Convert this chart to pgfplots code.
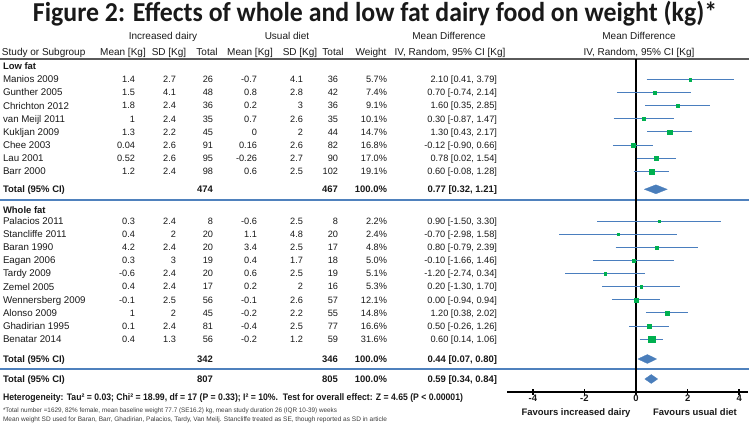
\documentclass[border=0pt]{standalone}
\usepackage{pgfplots}
\pgfplotsset{compat=1.18}
\usepackage{fontspec}
\setmainfont{Liberation Sans}
\newfontfamily\titlefont{Carlito}
\newlength\px \setlength\px{0.75pt}
\definecolor{ciblue}{RGB}{74,126,190}
\definecolor{sqgreen}{RGB}{0,176,80}
\definecolor{diablue}{RGB}{74,126,187}
\definecolor{sepblue}{RGB}{79,129,189}
\definecolor{txt}{RGB}{25,25,25}
\definecolor{hline}{RGB}{90,90,90}

\newcommand\dat{\fontsize{6.9pt}{8pt}\selectfont}
\newcommand\nam{\fontsize{7.3pt}{8.5pt}\selectfont}
\newcommand\hdr{\fontsize{7.5pt}{9pt}\selectfont}
\newcommand\bld{\fontsize{7.1pt}{8.5pt}\selectfont\bfseries}

% #1 centre y (px), #2 name, #3..#8 numbers, #9 weight
\newcommand\row[9]{%
  \node[anchor=base west] at (3,{#1+3.4}) {\nam #2};
  \node[anchor=base east] at (135,{#1+3.3}) {\dat #3};
  \node[anchor=base east] at (176,{#1+3.3}) {\dat #4};
  \node[anchor=base east] at (213,{#1+3.3}) {\dat #5};
  \node[anchor=base east] at (257,{#1+3.3}) {\dat #6};
  \node[anchor=base east] at (303,{#1+3.3}) {\dat #7};
  \node[anchor=base east] at (338,{#1+3.3}) {\dat #8};
  \node[anchor=base east] at (387,{#1+3.3}) {\dat #9};
}
\newcommand\ci[2]{\node[anchor=base east] at (497,{#1+3.3}) {\dat #2};}
\newcommand\totrow[6]{%
  \node[anchor=base west] at (3,{#1+3.4}) {\bld #2};
  \node[anchor=base east] at (213,{#1+3.4}) {\bld #3};
  \node[anchor=base east] at (338,{#1+3.4}) {\bld #4};
  \node[anchor=base east] at (387,{#1+3.4}) {\bld 100.0\%};
  \node[anchor=base east] at (497,{#1+3.4}) {\bld #6};
}
% study: y, lower, upper, estimate, half-size of square (pt)
\newcommand\study[5]{%
  \addplot[ciblue, line width=0.85pt, mark=none] coordinates {(#2,#1) (#3,#1)};
  \addplot[only marks, mark=square*, mark size=#5pt, color=sqgreen, mark options={line width=0.1pt}] coordinates {(#4,#1)};
}

\begin{document}
\begin{tikzpicture}[x=0.75pt,y=-0.75pt,
  every node/.style={inner sep=0pt, outer sep=0pt, text=txt}]
\path[use as bounding box] (0,0) rectangle (749,423);

% title
\node[anchor=base] at (375,21.5) {\resizebox{684\px}{\height}{\titlefont\bfseries\fontsize{20.5pt}{22pt}\selectfont Figure 2: Effects of whole and low fat dairy food on weight (kg)*}};

% headers
\node[anchor=base] at (163,40) {\hdr Increased dairy};
\node[anchor=base] at (287,40) {\hdr Usual diet};
\node[anchor=base] at (449,40) {\hdr Mean Difference};
\node[anchor=base] at (639,40) {\hdr Mean Difference};
\node[anchor=base west] at (2,55.5) {\hdr Study or Subgroup};
\node[anchor=base] at (123,55.5) {\hdr Mean [Kg]};
\node[anchor=base] at (169,55.5) {\hdr SD [Kg]};
\node[anchor=base] at (207,55.5) {\hdr Total};
\node[anchor=base] at (250,55.5) {\hdr Mean [Kg]};
\node[anchor=base] at (300,55.5) {\hdr SD [Kg]};
\node[anchor=base] at (333,55.5) {\hdr Total};
\node[anchor=base] at (371,55.5) {\hdr Weight};
\node[anchor=base] at (450,55.5) {\hdr IV, Random, 95\% CI [Kg]};
\node[anchor=base] at (639,55.5) {\hdr IV, Random, 95\% CI [Kg]};

\draw[hline, line width=1.2pt] (0,59) -- (749,59);
\draw[sepblue, line width=0.9pt] (0,200) -- (749,200);
\draw[sepblue, line width=0.9pt] (0,369) -- (749,369);

% low fat
\node[anchor=base west] at (3,69.5) {\bld Low fat};
\row{79.5}{Manios 2009}{1.4}{2.7}{26}{-0.7}{4.1}{36}{5.7\%}
\ci{79.5}{2.10 [0.41, 3.79]}
\row{92.6}{Gunther 2005}{1.5}{4.1}{48}{0.8}{2.8}{42}{7.4\%}
\ci{92.6}{0.70 [-0.74, 2.14]}
\row{105.7}{Chrichton 2012}{1.8}{2.4}{36}{0.2}{3}{36}{9.1\%}
\ci{105.7}{1.60 [0.35, 2.85]}
\row{118.8}{van Meijl 2011}{1}{2.4}{35}{0.7}{2.6}{35}{10.1\%}
\ci{118.8}{0.30 [-0.87, 1.47]}
\row{131.9}{Kukljan 2009}{1.3}{2.2}{45}{0}{2}{44}{14.7\%}
\ci{131.9}{1.30 [0.43, 2.17]}
\row{145.0}{Chee 2003}{0.04}{2.6}{91}{0.16}{2.6}{82}{16.8\%}
\ci{145.0}{-0.12 [-0.90, 0.66]}
\row{158.1}{Lau 2001}{0.52}{2.6}{95}{-0.26}{2.7}{90}{17.0\%}
\ci{158.1}{0.78 [0.02, 1.54]}
\row{171.2}{Barr 2000}{1.2}{2.4}{98}{0.6}{2.5}{102}{19.1\%}
\ci{171.2}{0.60 [-0.08, 1.28]}
\totrow{189.3}{Total (95\% CI)}{474}{467}{}{0.77 [0.32, 1.21]}

% whole fat
\node[anchor=base west] at (3,214) {\bld Whole fat};
\row{221.2}{Palacios 2011}{0.3}{2.4}{8}{-0.6}{2.5}{8}{2.2\%}
\ci{221.2}{0.90 [-1.50, 3.30]}
\row{234.3}{Stancliffe 2011}{0.4}{2}{20}{1.1}{4.8}{20}{2.4\%}
\ci{234.3}{-0.70 [-2.98, 1.58]}
\row{247.4}{Baran 1990}{4.2}{2.4}{20}{3.4}{2.5}{17}{4.8\%}
\ci{247.4}{0.80 [-0.79, 2.39]}
\row{260.5}{Eagan 2006}{0.3}{3}{19}{0.4}{1.7}{18}{5.0\%}
\ci{260.5}{-0.10 [-1.66, 1.46]}
\row{273.6}{Tardy 2009}{-0.6}{2.4}{20}{0.6}{2.5}{19}{5.1\%}
\ci{273.6}{-1.20 [-2.74, 0.34]}
\row{286.7}{Zemel 2005}{0.4}{2.4}{17}{0.2}{2}{16}{5.3\%}
\ci{286.7}{0.20 [-1.30, 1.70]}
\row{299.8}{Wennersberg 2009}{-0.1}{2.5}{56}{-0.1}{2.6}{57}{12.1\%}
\ci{299.8}{0.00 [-0.94, 0.94]}
\row{312.9}{Alonso 2009}{1}{2}{45}{-0.2}{2.2}{55}{14.8\%}
\ci{312.9}{1.20 [0.38, 2.02]}
\row{326.0}{Ghadirian 1995}{0.1}{2.4}{81}{-0.4}{2.5}{77}{16.6\%}
\ci{326.0}{0.50 [-0.26, 1.26]}
\row{339.1}{Benatar 2014}{0.4}{1.3}{56}{-0.2}{1.2}{59}{31.6\%}
\ci{339.1}{0.60 [0.14, 1.06]}
\totrow{359}{Total (95\% CI)}{342}{346}{}{0.44 [0.07, 0.80]}
\totrow{379}{Total (95\% CI)}{807}{805}{}{0.59 [0.34, 0.84]}

\node[anchor=base west] at (3,400.5) {\resizebox{460\px}{\height}{\bld Heterogeneity: Tau² = 0.03; Chi² = 18.99, df = 17 (P = 0.33); I² = 10\%.\ \ Test for overall effect: Z = 4.65 (P < 0.00001)}};
\node[anchor=base west] at (3,412.5) {\resizebox{334\px}{\height}{\fontsize{4.9pt}{5.5pt}\selectfont\color{txt!85}*Total number =1629, 82\% female, mean baseline weight 77.7 (SE16.2) kg, mean study duration 26 (IQR 10-39) weeks}};
\node[anchor=base west] at (3,421.3) {\resizebox{384\px}{\height}{\fontsize{4.9pt}{5.5pt}\selectfont\color{txt!85}Mean weight SD used for Baran, Barr, Ghadirian, Palacios, Tardy, Van Meilj. Stancliffe treated as SE, though reported as SD in article}};

\node[anchor=base] at (576,415.5) {\bld Favours increased dairy};
\node[anchor=base] at (695,415.5) {\bld Favours usual diet};

\begin{axis}[at={(380.25pt,-294pt)}, anchor=south west,
  scale only axis, width=180.75pt, height=249.75pt,
  xmin=-5, xmax=4.34, ymin=-392, ymax=-59, clip=false,
  axis x line*=bottom, axis y line=none,
  x axis line style={line width=1.5pt, black, -},
  xtick={-4,-2,0,2,4}, xticklabels={-4,-2,0,2,4},
  xticklabel style={font=\bld, text=txt},
  ytick=\empty,
  major tick length=4.5pt, xtick align=center,
  tick style={line width=1.2pt, black}]
\addplot[black, line width=1.5pt, mark=none] coordinates {(0,-59) (0,-392)};
% low fat studies: y, lower, upper, estimate, half-size
\study{-79.5}{0.41}{3.79}{2.10}{0.985}
\study{-92.6}{-0.74}{2.14}{0.70}{1.122}
\study{-105.7}{0.35}{2.85}{1.60}{1.244}
\study{-118.8}{-0.87}{1.47}{0.30}{1.311}
\study{-131.9}{0.43}{2.17}{1.30}{1.582}
\study{-145.2}{-0.90}{0.66}{-0.12}{1.691}
\study{-158.1}{0.02}{1.54}{0.78}{1.701}
\study{-171.2}{-0.08}{1.28}{0.60}{1.803}
% whole fat studies
\study{-221.2}{-1.50}{3.30}{0.90}{0.612}
\study{-234.3}{-2.98}{1.58}{-0.70}{0.639}
\study{-247.4}{-0.79}{2.39}{0.80}{0.904}
\study{-260.5}{-1.66}{1.46}{-0.10}{0.922}
\study{-273.6}{-2.74}{0.34}{-1.20}{0.932}
\study{-286.7}{-1.30}{1.70}{0.20}{0.950}
\study{-299.8}{-0.94}{0.94}{0.00}{1.435}
\study{-312.9}{0.38}{2.02}{1.20}{1.587}
\study{-326.2}{-0.26}{1.26}{0.50}{1.681}
\study{-339.1}{0.14}{1.06}{0.60}{2.319}
% pooled estimates
\addplot[fill=diablue, draw=diablue, line width=0.2pt, mark=none] coordinates {(0.32,-189.3) (0.77,-184.8) (1.21,-189.3) (0.77,-193.8) (0.32,-189.3)};
\addplot[fill=diablue, draw=diablue, line width=0.2pt, mark=none] coordinates {(0.07,-359) (0.44,-354.5) (0.80,-359) (0.44,-363.5) (0.07,-359)};
\addplot[fill=diablue, draw=diablue, line width=0.2pt, mark=none] coordinates {(0.34,-379) (0.59,-374.5) (0.84,-379) (0.59,-383.5) (0.34,-379)};
\end{axis}
\end{tikzpicture}
\end{document}
